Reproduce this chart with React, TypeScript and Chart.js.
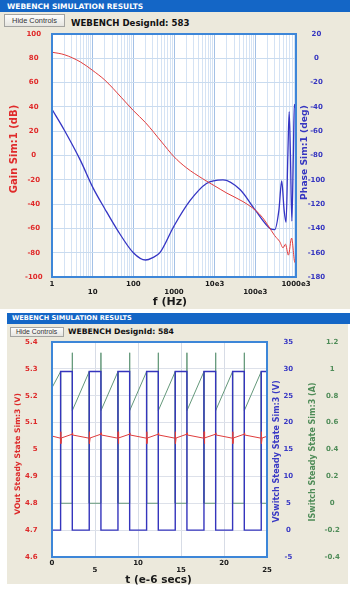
import React, { useEffect, useRef } from 'react';
import { Chart, registerables } from 'chart.js';

Chart.register(...registerables);

// ---------- Chart 1: Bode plot (Sim:1) ----------
const gainFreq = [1, 2, 5, 10, 20, 50, 100, 200, 500, 1000, 2000, 5000, 10000, 20000, 50000, 100000, 150000, 200000, 300000, 400000, 480000, 550000, 650000, 780000, 940000, 1000000];
const gainDb = [85, 83, 77, 70, 62, 48, 37, 27, 11, -1, -10, -19, -25, -31, -38, -45, -51, -57, -66, -71, -76, -73, -82, -68, -88, -85];

const phaseFreq = [1, 2, 5, 10, 20, 40, 100, 200, 300, 450, 1000, 2500, 6300, 16000, 42000, 100000, 230000, 300000, 380000, 445000, 510000, 570000, 630000, 680000, 730000, 790000, 860000, 910000, 1000000];
const phaseDeg = [-42, -59, -84, -106, -124, -141, -160, -166, -164, -160, -138, -117, -103, -100, -108, -125, -140, -141, -125, -101, -125, -135, -80, -44, -80, -134, -80, -38, -42];

const freqTickLabels = ['1', '10', '100', '1000', '10e3', '100e3', '1000e3'];
const freqGridMantissas = [1, 2, 3, 4, 5, 6, 7, 8, 9];

// ---------- Chart 2: Steady state (Sim:3) ----------
const voutT = [0,
  1.0, 1.01, 1.04, 1.1, 2.36, 2.38, 2.41,
  4.33, 4.34, 4.37, 4.43, 5.69, 5.71, 5.74,
  7.67, 7.68, 7.71, 7.77, 9.03, 9.05, 9.08,
  11.0, 11.01, 11.04, 11.1, 12.36, 12.38, 12.41,
  14.33, 14.34, 14.37, 14.43, 15.69, 15.71, 15.74,
  17.67, 17.68, 17.71, 17.77, 19.03, 19.05, 19.08,
  21.0, 21.01, 21.04, 21.1, 22.36, 22.38, 22.41,
  24.33, 24.34, 24.37, 24.43, 25];
const voutV = [5.050,
  5.042, 5.066, 5.022, 5.043, 5.057, 5.062, 5.054,
  5.042, 5.066, 5.022, 5.043, 5.057, 5.062, 5.054,
  5.042, 5.066, 5.022, 5.043, 5.057, 5.062, 5.054,
  5.042, 5.066, 5.022, 5.043, 5.057, 5.062, 5.054,
  5.042, 5.066, 5.022, 5.043, 5.057, 5.062, 5.054,
  5.042, 5.066, 5.022, 5.043, 5.057, 5.062, 5.054,
  5.042, 5.066, 5.022, 5.043, 5.057, 5.062, 5.054,
  5.042, 5.066, 5.022, 5.043, 5.049];

const vswT = [0, 1.0, 1.0, 2.36, 2.36, 4.33, 4.33, 5.69, 5.69, 7.67, 7.67, 9.03, 9.03, 11.0, 11.0, 12.36, 12.36, 14.33, 14.33, 15.69, 15.69, 17.67, 17.67, 19.03, 19.03, 21.0, 21.0, 22.36, 22.36, 24.33, 24.33, 25];
const vswV = [0, 0, 29.5, 29.5, 0, 0, 29.5, 29.5, 0, 0, 29.5, 29.5, 0, 0, 29.5, 29.5, 0, 0, 29.5, 29.5, 0, 0, 29.5, 29.5, 0, 0, 29.5, 29.5, 0, 0, 29.5, 29.5];

const iswT = [0, 1.0, 1.0,
  2.36, 2.36, 2.37, 4.33, 4.33,
  5.69, 5.69, 5.70, 7.67, 7.67,
  9.03, 9.03, 9.04, 11.0, 11.0,
  12.36, 12.36, 12.37, 14.33, 14.33,
  15.69, 15.69, 15.70, 17.67, 17.67,
  19.03, 19.03, 19.04, 21.0, 21.0,
  22.36, 22.36, 22.37, 24.33, 24.33,
  25];
const iswA = [0.86, 0.98, 0,
  0, 1.12, 0.69, 0.98, 0,
  0, 1.12, 0.69, 0.98, 0,
  0, 1.12, 0.69, 0.98, 0,
  0, 1.12, 0.69, 0.98, 0,
  0, 1.12, 0.69, 0.98, 0,
  0, 1.12, 0.69, 0.98, 0,
  0, 1.12, 0.69, 0.98, 0,
  0];

const FONT = "'DejaVu Sans', Verdana, sans-serif";
const tickFont = (lineHeight = 1.2) => ({ family: FONT, size: 7, weight: 'bold' as const, lineHeight });

type TitleSpec = { text: string; x: number; y?: number; dy?: number; size: number; color: string; vertical: boolean };

function framePlugin(id: string, borderColor: string, titles: TitleSpec[]) {
  return {
    id,
    beforeDraw(chart: any) {
      const { ctx, chartArea: a } = chart;
      ctx.save();
      ctx.fillStyle = '#ffffff';
      ctx.fillRect(a.left, a.top, a.right - a.left, a.bottom - a.top);
      ctx.restore();
    },
    afterDraw(chart: any) {
      const { ctx, chartArea: a } = chart;
      ctx.save();
      ctx.strokeStyle = borderColor;
      ctx.lineWidth = 2;
      ctx.strokeRect(a.left, a.top, a.right - a.left, a.bottom - a.top);
      const cy = (a.top + a.bottom) / 2;
      for (const t of titles) {
        ctx.save();
        ctx.fillStyle = t.color;
        ctx.font = `bold ${t.size}px ${FONT}`;
        ctx.textAlign = 'center';
        ctx.textBaseline = 'middle';
        if (t.vertical) {
          ctx.translate(t.x, cy + (t.dy || 0));
          ctx.rotate(-Math.PI / 2);
          ctx.fillText(t.text, 0, 0);
        } else {
          ctx.fillText(t.text, t.x, t.y || 0);
        }
        ctx.restore();
      }
      ctx.restore();
    },
  };
}

const isPow10 = (v: number) => {
  const e = Math.round(Math.log10(v));
  return Math.abs(v - Math.pow(10, e)) < 1e-9 * v;
};

// fixed axis box width, without the extra top/bottom padding Chart.js adds for tick labels
const fixWidth = (w: number) => (s: any) => {
  s.width = w;
  s.paddingTop = 0;
  s.paddingBottom = 0;
};

function bodeConfig(): any {
  const gridValues: number[] = [];
  for (let e = 0; e < 6; e++) for (const m of freqGridMantissas) gridValues.push(m * Math.pow(10, e));
  gridValues.push(1e6);
  return {
    type: 'line',
    data: {
      datasets: [
        {
          label: 'Gain Sim:1 (dB)',
          data: gainFreq.map((x, i) => ({ x, y: gainDb[i] })),
          yAxisID: 'gain',
          borderColor: '#e23c3c',
          borderWidth: 1,
          pointRadius: 0,
          cubicInterpolationMode: 'monotone',
        },
        {
          label: 'Phase Sim:1 (deg)',
          data: phaseFreq.map((x, i) => ({ x, y: phaseDeg[i] })),
          yAxisID: 'phase',
          borderColor: '#3535c4',
          borderWidth: 1.3,
          pointRadius: 0,
          cubicInterpolationMode: 'monotone',
        },
      ],
    },
    options: {
      animation: false,
      responsive: false,
      maintainAspectRatio: false,
      layout: { padding: { top: 6, left: 0, right: 0, bottom: 0 } },
      plugins: { legend: { display: false }, tooltip: { enabled: false } },
      scales: {
        x: {
          type: 'logarithmic',
          position: 'bottom',
          min: 1,
          max: 1e6,
          afterBuildTicks: (s: any) => { s.ticks = gridValues.map((value) => ({ value })); },
          afterFit: (s: any) => { s.height = 33; },
          border: { display: false },
          grid: {
            drawTicks: false,
            color: (c: any) => (c.tick && isPow10(c.tick.value) ? '#a4c1e6' : '#d5e3f4'),
          },
          ticks: {
            autoSkip: false,
            maxRotation: 0,
            minRotation: 0,
            padding: 2.5,
            color: '#1a1a1a',
            font: tickFont(1.2),
            callback: (v: number) => {
              if (!isPow10(v)) return '';
              const e = Math.round(Math.log10(v));
              const lab = freqTickLabels[e];
              return e % 2 === 0 ? [lab, ''] : ['', lab];
            },
          },
        },
        gain: {
          type: 'linear',
          position: 'left',
          min: -100,
          max: 100,
          afterFit: fixWidth(52),
          border: { display: false },
          grid: { drawTicks: false, color: '#c9dbef' },
          ticks: { stepSize: 20, padding: 9.5, crossAlign: 'center', color: '#e02a2a', font: tickFont() },
        },
        phase: {
          type: 'linear',
          position: 'right',
          min: -180,
          max: 20,
          afterFit: fixWidth(58),
          border: { display: false },
          grid: { display: false, drawTicks: false },
          ticks: { stepSize: 20, padding: 11.7, crossAlign: 'center', color: '#3535c0', font: tickFont() },
        },
      },
    },
    plugins: [
      framePlugin('frame1', '#3d86d8', [
        { text: 'Gain Sim:1 (dB)', x: 14.5, dy: -6.5, size: 10, color: '#e02a2a', vertical: true },
        { text: 'Phase Sim:1 (deg)', x: 305, dy: -3, size: 9.2, color: '#3535c0', vertical: true },
        { text: 'f (Hz)', x: 170, y: 274.5, size: 11, color: '#1a1a1a', vertical: false },
      ]),
    ],
  };
}

function steadyConfig(): any {
  return {
    type: 'line',
    data: {
      datasets: [
        {
          label: 'VOut Steady State Sim:3 (V)',
          data: voutT.map((x, i) => ({ x, y: voutV[i] })),
          yAxisID: 'vout',
          borderColor: '#e03c3c',
          borderWidth: 1,
          pointRadius: 0,
          tension: 0,
        },
        {
          label: 'VSwitch Steady State Sim:3 (V)',
          data: vswT.map((x, i) => ({ x, y: vswV[i] })),
          yAxisID: 'vsw',
          borderColor: '#3535bd',
          borderWidth: 1.4,
          pointRadius: 0,
          tension: 0,
        },
        {
          label: 'ISwitch Steady State Sim:3 (A)',
          data: iswT.map((x, i) => ({ x, y: iswA[i] })),
          yAxisID: 'isw',
          borderColor: '#64987a',
          borderWidth: 1,
          pointRadius: 0,
          tension: 0,
        },
      ],
    },
    options: {
      animation: false,
      responsive: false,
      maintainAspectRatio: false,
      layout: { padding: { top: 4, left: 0, right: 0, bottom: 0 } },
      plugins: { legend: { display: false }, tooltip: { enabled: false } },
      scales: {
        x: {
          type: 'linear',
          position: 'bottom',
          min: 0,
          max: 25,
          afterFit: (s: any) => { s.height = 31; },
          border: { display: false },
          grid: { drawTicks: false, color: '#d7dce6' },
          ticks: {
            stepSize: 5,
            autoSkip: false,
            maxRotation: 0,
            minRotation: 0,
            padding: 3,
            color: '#1a1a1a',
            font: tickFont(0.95),
            callback: (v: number, i: number) => (i % 2 === 0 ? [String(v), ''] : ['', String(v)]),
          },
        },
        vout: {
          type: 'linear',
          position: 'left',
          min: 4.6,
          max: 5.4,
          afterFit: fixWidth(52),
          border: { display: false },
          grid: { drawTicks: false, color: '#dde1ea' },
          ticks: {
            stepSize: 0.1,
            padding: 14.5,
            color: '#dd2a2a',
            font: tickFont(),
            callback: (v: number) => String(parseFloat(Number(v).toFixed(2))),
          },
        },
        vsw: {
          type: 'linear',
          position: 'right',
          weight: 0,
          min: -5,
          max: 35,
          afterFit: fixWidth(38),
          border: { display: false },
          grid: { display: false, drawTicks: false },
          ticks: { stepSize: 5, padding: 16.5, crossAlign: 'center', color: '#3a3ac4', font: tickFont() },
        },
        isw: {
          type: 'linear',
          position: 'right',
          weight: 1,
          min: -0.4,
          max: 1.2,
          afterFit: fixWidth(49),
          border: { display: false },
          grid: { display: false, drawTicks: false },
          ticks: {
            stepSize: 0.2,
            padding: 19.5,
            crossAlign: 'center',
            color: '#4f8c58',
            font: tickFont(),
            callback: (v: number) => String(parseFloat(Number(v).toFixed(2))),
          },
        },
      },
    },
    plugins: [
      framePlugin('frame2', '#3d86d8', [
        { text: 'VOut Steady State Sim:3 (V)', x: 18.3, dy: 4.5, size: 7.6, color: '#dd2a2a', vertical: true },
        { text: 'VSwitch Steady State Sim:3 (V)', x: 276.7, dy: 2, size: 8, color: '#3a3ac4', vertical: true },
        { text: 'ISwitch Steady State Sim:3 (A)', x: 312.5, dy: 2.5, size: 8, color: '#4f8c58', vertical: true },
        { text: 't (e-6 secs)', x: 158.5, y: 242, size: 10.5, color: '#1a1a1a', vertical: false },
      ]),
    ],
  };
}

const abs = (s: React.CSSProperties): React.CSSProperties => ({ position: 'absolute', ...s });

export default function App() {
  const ref1 = useRef<HTMLCanvasElement>(null);
  const ref2 = useRef<HTMLCanvasElement>(null);

  useEffect(() => {
    const ch1 = new Chart(ref1.current as HTMLCanvasElement, bodeConfig());
    const ch2 = new Chart(ref2.current as HTMLCanvasElement, steadyConfig());
    return () => {
      ch1.destroy();
      ch2.destroy();
    };
  }, []);

  const headerText: React.CSSProperties = { color: '#ffffff', fontFamily: FONT, fontWeight: 'bold', whiteSpace: 'nowrap' };
  const button: React.CSSProperties = {
    boxSizing: 'border-box',
    border: '1px solid #a3a3a0',
    background: 'linear-gradient(#fdfdfc, #e6e5e0)',
    color: '#333',
    fontFamily: "'Liberation Sans', Arial, sans-serif",
    textAlign: 'center',
    whiteSpace: 'nowrap',
  };
  const idText: React.CSSProperties = { color: '#111', fontFamily: FONT, fontWeight: 'bold', whiteSpace: 'nowrap' };

  return (
    <div style={abs({ left: 0, top: 0, width: 354, height: 591, background: '#ffffff', overflow: 'hidden' })}>
      {/* Panel 1 */}
      <div style={abs({ left: 0, top: 0, width: 350, height: 309, background: '#ece9dc' })} />
      <div style={abs({ left: 0, top: 0, width: 350, height: 12, background: '#1466c6' })} />
      <div style={abs({ ...headerText, left: 7, top: 0, height: 12, lineHeight: '13px', fontSize: 7.5 })}>WEBENCH SIMULATION RESULTS</div>
      <div style={abs({ ...button, left: 4, top: 14, width: 61, height: 13, fontSize: 7.4, lineHeight: '11px' })}>Hide Controls</div>
      <div style={abs({ ...idText, left: 71, top: 17.5, fontSize: 8.6, lineHeight: '10px' })}>WEBENCH DesignId: 583</div>
      <div style={abs({ left: 0, top: 28, width: 354, height: 282 })}>
        <canvas ref={ref1} width={354} height={282} style={{ display: 'block', width: 354, height: 282 }} />
      </div>

      {/* Panel 2 */}
      <div style={abs({ left: 7, top: 323, width: 341, height: 261, background: '#ece9dc' })} />
      <div style={abs({ left: 7, top: 313, width: 343, height: 10.5, background: '#1466c6' })} />
      <div style={abs({ ...headerText, left: 12, top: 313, height: 10.5, lineHeight: '11px', fontSize: 6.6 })}>WEBENCH SIMULATION RESULTS</div>
      <div style={abs({ ...button, left: 9.5, top: 326.5, width: 54, height: 10, fontSize: 6.8, lineHeight: '8px' })}>Hide Controls</div>
      <div style={abs({ ...idText, left: 68, top: 326.7, fontSize: 7.7, lineHeight: '10px' })}>WEBENCH DesignId: 584</div>
      <div style={abs({ left: 0, top: 338, width: 354, height: 250 })}>
        <canvas ref={ref2} width={354} height={250} style={{ display: 'block', width: 354, height: 250 }} />
      </div>
    </div>
  );
}
